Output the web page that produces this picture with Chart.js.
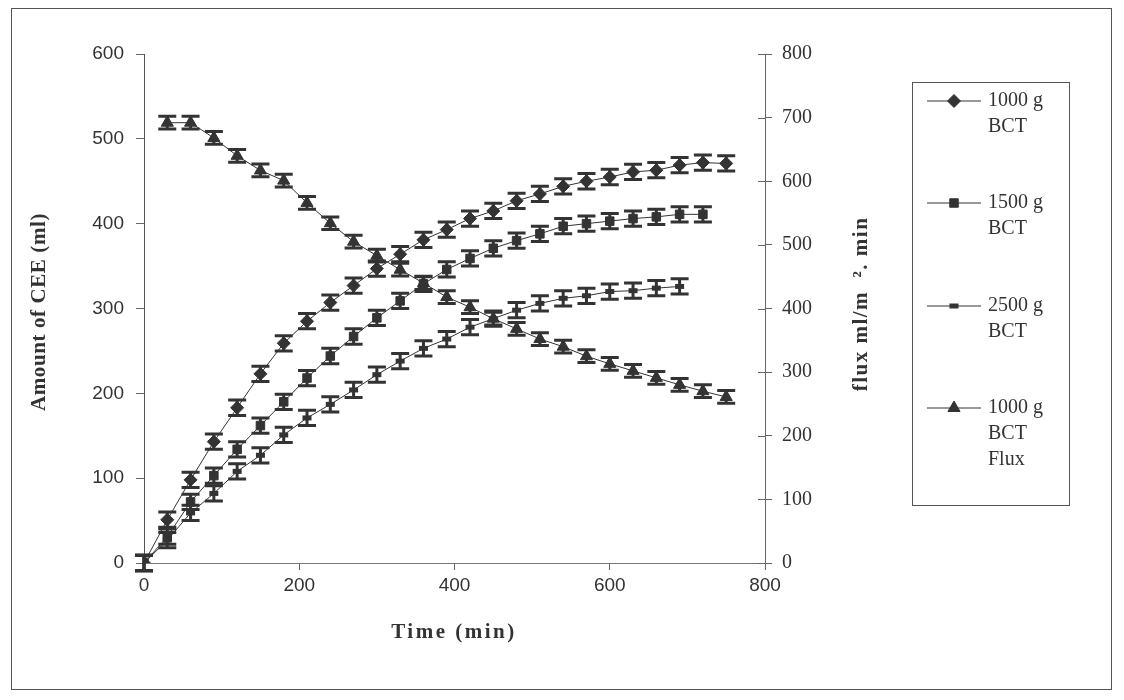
<!DOCTYPE html>
<html>
<head>
<meta charset="utf-8">
<title>Amount of CEE</title>
<script src="https://cdn.jsdelivr.net/npm/chart.js@4/dist/chart.umd.min.js"></script>
<style>
  body { margin: 0; background: #fff; }
  canvas { display: block; }
</style>
</head>
<body>
<canvas id="grafico" width="1124" height="700"></canvas>
<script>
// Tempos de coleta (min)
const tempos = [0, 30, 60, 90, 120, 150, 180, 210, 240, 270, 300, 330, 360, 390, 420, 450, 480, 510, 540, 570, 600, 630, 660, 690, 720, 750];

// Quantidade de CEE (ml) por carga de BCT
const bct1000 = [0, 51, 98, 143, 183, 223, 259, 285, 307, 327, 347, 364, 381, 393, 406, 415, 427, 435, 444, 450, 455, 461, 463, 469, 472, 471];
const bct1500 = [0, 31, 72, 103, 134, 162, 190, 218, 244, 267, 289, 309, 329, 346, 359, 371, 380, 388, 397, 400, 403, 406, 408, 411, 411];
const bct2500 = [0, 27, 59, 82, 108, 127, 151, 171, 187, 204, 222, 238, 253, 264, 278, 288, 298, 306, 312, 315, 320, 321, 324, 326];

// Fluxo (ml/m2.min) para 1000 g BCT, começa em 30 min
const fluxo1000 = [692, 692, 668, 640, 617, 601, 566, 534, 505, 483, 461, 440, 418, 402, 384, 368, 352, 340, 325, 313, 302, 291, 280, 270, 261];

// Barras de erro
const erroCEE = 9;
const erroFluxo = 10;

// Legenda (linhas quebradas como no original)
const legendas = [['1000 g', 'BCT'], ['1500 g', 'BCT'], ['2500 g', 'BCT'], ['1000 g', 'BCT', 'Flux']];

const cor = '#333333';
const fonteSans = '"Liberation Sans", Arial, sans-serif';
const fonteSerif = '"Liberation Serif", "Times New Roman", serif';

function pontos(valores, inicio) {
    return valores.map((v, i) => ({ x: tempos[i + inicio], y: v }));
}

// Escreve um título de eixo (rotação opcional, com espaçamento entre letras)
function titulo(ctx, texto, x, y, rot, espaco) {
    ctx.save();
    ctx.translate(x, y);
    ctx.rotate(rot);
    ctx.fillStyle = cor;
    ctx.font = 'bold 21px ' + fonteSerif;
    ctx.letterSpacing = espaco + 'px';
    ctx.textAlign = 'center';
    ctx.textBaseline = 'middle';
    ctx.fillText(texto, 0, 0);
    ctx.restore();
}

// Plugin para desenhar as barras de erro
const barrasErro = {
    id: 'barrasErro',
    beforeDatasetsDraw(chart) {
        const ctx = chart.ctx;
        ctx.save();
        ctx.strokeStyle = cor;
        ctx.lineWidth = 3;
        chart.data.datasets.forEach((ds, i) => {
            const meta = chart.getDatasetMeta(i);
            const escala = chart.scales[ds.yAxisID];
            meta.data.forEach((p, j) => {
                const v = ds.data[j].y;
                const yTopo = escala.getPixelForValue(v + ds.erro);
                const yBase = escala.getPixelForValue(v - ds.erro);
                ctx.beginPath();
                ctx.moveTo(p.x, yTopo);
                ctx.lineTo(p.x, yBase);
                ctx.moveTo(p.x - 9, yTopo);
                ctx.lineTo(p.x + 9, yTopo);
                ctx.moveTo(p.x - 9, yBase);
                ctx.lineTo(p.x + 9, yBase);
                ctx.stroke();
            });
        });
        ctx.restore();
    }
};

// Plugin para moldura, legenda e títulos dos eixos
const extras = {
    id: 'extras',
    afterDraw(chart) {
        const ctx = chart.ctx;
        ctx.save();

        // Moldura externa
        ctx.strokeStyle = '#555';
        ctx.lineWidth = 1;
        ctx.strokeRect(11.5, 8.5, 1100, 681);

        // Marcas do eixo direito cruzando para dentro
        const y2 = chart.scales.y2;
        ctx.strokeStyle = '#666';
        y2.ticks.forEach(t => {
            const y = Math.round(y2.getPixelForValue(t.value)) + 0.5;
            ctx.beginPath();
            ctx.moveTo(y2.left - 7, y);
            ctx.lineTo(y2.left, y);
            ctx.stroke();
        });

        // Títulos dos eixos
        titulo(ctx, 'Amount of CEE (ml)', 40, 312, -Math.PI / 2, 0.6);
        titulo(ctx, 'flux ml/m  \u00B2. min', 862, 304, -Math.PI / 2, 1.5);
        titulo(ctx, 'Time (min)', 454, 633, 0, 2.5);

        // Legenda
        ctx.strokeStyle = '#555';
        ctx.strokeRect(912.5, 82.5, 157, 423);
        const posY = [101, 203, 306, 408];
        chart.data.datasets.forEach((ds, i) => {
            const y = posY[i];
            ctx.strokeStyle = cor;
            ctx.lineWidth = 1;
            ctx.beginPath();
            ctx.moveTo(927, y);
            ctx.lineTo(981, y);
            ctx.stroke();
            ctx.fillStyle = cor;
            ctx.lineWidth = ds.pointBorderWidth;
            Chart.helpers.drawPoint(ctx, {
                pointStyle: ds.pointStyle,
                radius: ds.pointRadius,
                rotation: 0,
                borderWidth: ds.pointBorderWidth
            }, 954, y);
            ctx.font = '20px ' + fonteSerif;
            ctx.textAlign = 'left';
            ctx.textBaseline = 'middle';
            legendas[i].forEach((linha, k) => {
                ctx.fillText(linha, 988, y + k * 26);
            });
        });
        ctx.restore();
    }
};

const estiloBase = {
    borderColor: cor,
    borderWidth: 1,
    backgroundColor: cor,
    pointBackgroundColor: cor,
    pointBorderColor: cor,
    showLine: true,
    tension: 0
};

new Chart(document.getElementById('grafico'), {
    type: 'scatter',
    data: {
        datasets: [
            { ...estiloBase, label: '1000 g BCT', data: pontos(bct1000, 0), yAxisID: 'y', erro: erroCEE,
              pointStyle: 'rectRot', pointRadius: 6.5, pointBorderWidth: 1 },
            { ...estiloBase, label: '1500 g BCT', data: pontos(bct1500, 0), yAxisID: 'y', erro: erroCEE,
              pointStyle: 'rect', pointRadius: 6, pointBorderWidth: 1 },
            { ...estiloBase, label: '2500 g BCT', data: pontos(bct2500, 0), yAxisID: 'y', erro: erroCEE,
              pointStyle: 'line', pointRadius: 4.5, pointBorderWidth: 5 },
            { ...estiloBase, label: '1000 g BCT Flux', data: pontos(fluxo1000, 1), yAxisID: 'y2', erro: erroFluxo,
              pointStyle: 'triangle', pointRadius: 7, pointBorderWidth: 1 }
        ]
    },
    options: {
        responsive: false,
        animation: false,
        layout: { padding: { left: 0, top: 54, right: 0, bottom: 0 } },
        plugins: {
            legend: { display: false },
            tooltip: { enabled: false }
        },
        scales: {
            x: {
                type: 'linear',
                min: 0,
                max: 800,
                afterFit: s => { s.height = 137; },
                ticks: { stepSize: 200, color: cor, padding: 4, font: { family: fonteSans, size: 19 } },
                grid: { drawOnChartArea: false, drawTicks: true, tickLength: 7, color: '#666' },
                border: { color: '#777' }
            },
            y: {
                position: 'left',
                min: 0,
                max: 600,
                afterFit: s => { s.width = 144; },
                ticks: { stepSize: 100, color: cor, padding: 12, font: { family: fonteSans, size: 19 } },
                grid: { drawOnChartArea: false, drawTicks: true, tickLength: 8, color: '#666' },
                border: { color: '#555' }
            },
            y2: {
                position: 'right',
                min: 0,
                max: 800,
                afterFit: s => { s.width = 359; },
                ticks: { stepSize: 100, color: cor, padding: 10, font: { family: fonteSerif, size: 20 } },
                grid: { drawOnChartArea: false, drawTicks: true, tickLength: 7, color: '#666' },
                border: { color: '#666' }
            }
        }
    },
    plugins: [barrasErro, extras]
});
</script>
</body>
</html>
